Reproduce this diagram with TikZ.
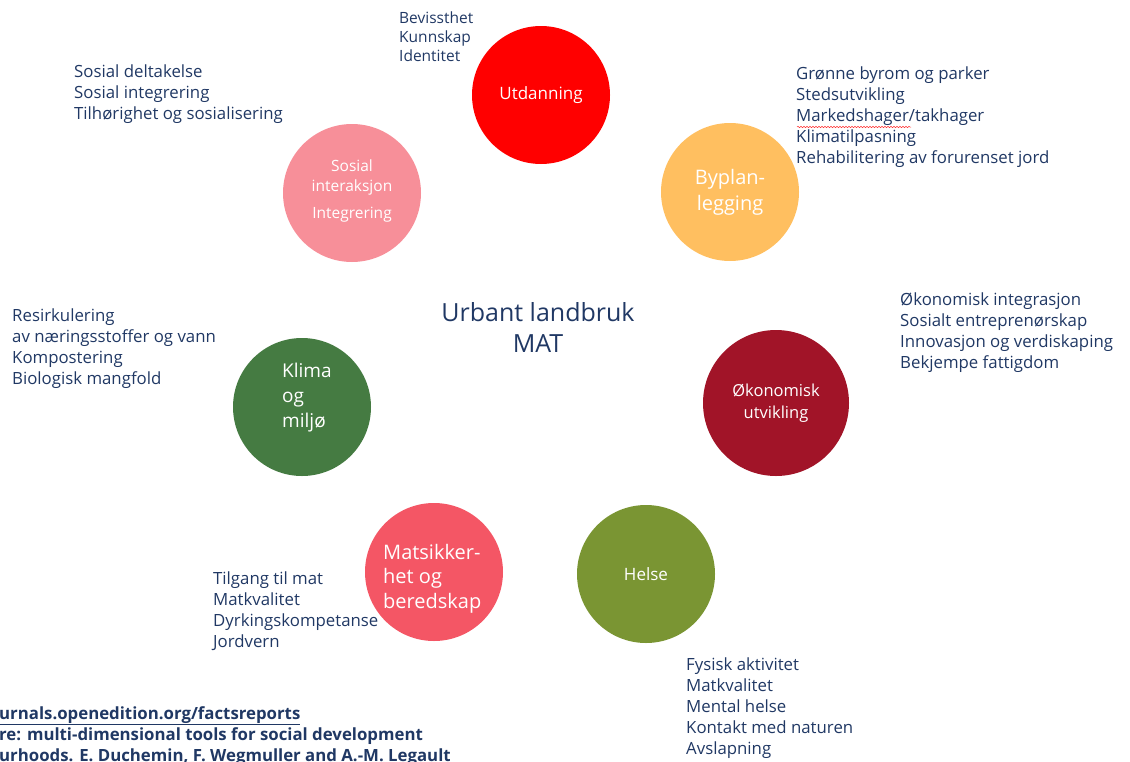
\documentclass[tikz,border=0pt]{standalone}
\usepackage{fontspec}
\setmainfont{Open Sans}
\usepackage{xcolor}
\usetikzlibrary{decorations.pathmorphing}
\definecolor{TextBlue}{HTML}{203864}
\definecolor{UtdRed}{HTML}{FF0000}
\definecolor{SosPink}{HTML}{F78F99}
\definecolor{ByOrange}{HTML}{FFBF60}
\definecolor{KlimaGreen}{HTML}{457B42}
\definecolor{OkoRed}{HTML}{A11428}
\definecolor{MatRed}{HTML}{F45665}
\definecolor{HelseGreen}{HTML}{7A9533}

\begin{document}
\begin{tikzpicture}[x=1pt, y=-1pt,
      every node/.append style={inner sep=0pt, text=TextBlue},
      topic/.style={circle, minimum size=138pt, text=white, align=center},
      items/.style={anchor=north west, align=left, font=\fontsize{16.8}{21}\selectfont}]
    \tikzstyle{source} = [anchor=north west, align=left, font=\fontsize{16.8}{21}\selectfont\bfseries]
    \useasboundingbox (0,0) rectangle (1130,761);
    \node (utdanning) [topic, fill=UtdRed, font=\fontsize{17}{20}\selectfont] at (541,95) {Utdanning};
    \node (sosial) [topic, fill=SosPink] at (352,193) {};
    \node (sosial_text) [text=white, align=center, font=\fontsize{15.5}{20}\selectfont] at (352,191) {Sosial\\interaksjon\\[7pt]Integrering};
    \node (byplan) [topic, fill=ByOrange, font=\fontsize{20}{26}\selectfont] at (730,192) {Byplan-\\legging};
    \node (klima) [topic, fill=KlimaGreen] at (302,407) {};
    \node (klima_text) [text=white, anchor=north west, align=left, font=\fontsize{19}{25}\selectfont] at (282,363) {Klima\\og\\miljø};
    \node (okonomi) [topic, fill=OkoRed, minimum size=146pt, font=\fontsize{16.5}{22}\selectfont] at (776,403) {Økonomisk\\utvikling};
    \node (mat) [topic, fill=MatRed] at (434,572) {};
    \node (mat_text) [text=white, anchor=north west, align=left, font=\fontsize{20}{24.5}\selectfont] at (383,544) {Matsikker-\\het og\\beredskap};
    \node (helse) [topic, fill=HelseGreen, font=\fontsize{17}{20}\selectfont] at (646,574) {Helse};
    \node (center) [align=center, font=\fontsize{25}{31}\selectfont] at (538,327) {Urbant landbruk\\MAT};

    \node (utdanning_items) [items, font=\fontsize{15.5}{19}\selectfont] at (399,12) {Bevissthet\\Kunnskap\\Identitet};
    \node (sosial_items) [items] at (74,65) {Sosial deltakelse\\Sosial integrering\\Tilhørighet og sosialisering};
    \node (byplan_items) [items] at (796,67) {Grønne byrom og parker\\Stedsutvikling\\Markedshager/takhager\\Klimatilpasning\\Rehabilitering av forurenset jord};
    \node (okonomi_items) [items] at (900,293) {Økonomisk integrasjon\\Sosialt entreprenørskap\\Innovasjon og verdiskaping\\Bekjempe fattigdom};
    \node (klima_items) [items] at (12,309) {Resirkulering\\av næringsstoffer og vann\\Kompostering\\Biologisk mangfold};
    \node (mat_items) [items] at (213,572) {Tilgang til mat\\Matkvalitet\\Dyrkingskompetanse\\Jordvern};
    \node (helse_items) [items] at (686,658) {Fysisk aktivitet\\Matkvalitet\\Mental helse\\Kontakt med naturen\\Avslapning};
    \node (kilde) [source] at (-1,706) {\underline{urnals.openedition.org/factsreports}\\re: multi-dimensional tools for social development\\urhoods. E. Duchemin, F. Wegmuller and A.-M. Legault};

    \draw [red!80, line width=0.5pt, decorate, decoration={snake, amplitude=0.7pt, segment length=3pt}] (797,127) -- (911,127);
\end{tikzpicture}
\end{document}
